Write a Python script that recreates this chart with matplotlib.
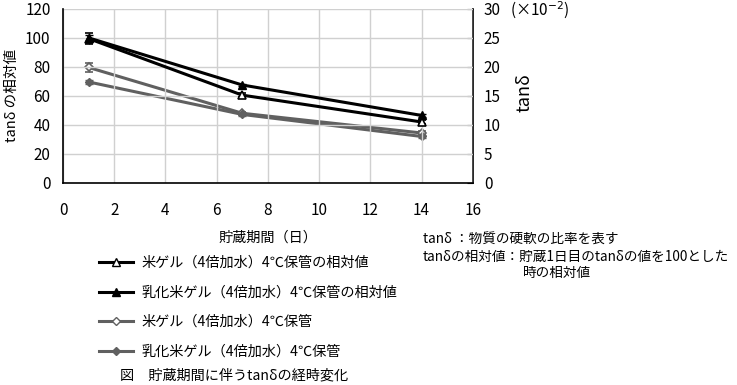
import matplotlib.pyplot as plt
from matplotlib.lines import Line2D

plt.rcParams['font.family'] = ['Noto Sans CJK JP', 'DejaVu Sans']

days = [1, 7, 14]

# relative values (left axis)
rel_rice = [99.5, 60.5, 42]
rel_rice_err = [4, 1.5, 1.5]
rel_emul = [100, 67.5, 46.5]
rel_emul_err = [2, 1, 1]

# tan delta (x10^-2, right axis)
tan_rice = [19.9, 12.0, 8.6]
tan_rice_err = [0.8, 0.3, 0.4]
tan_emul = [17.4, 11.8, 8.0]
tan_emul_err = [0.3, 0.3, 0.3]

labels = ['米ゲル（4倍加水）4℃保管の相対値',
          '乳化米ゲル（4倍加水）4℃保管の相対値',
          '米ゲル（4倍加水）4℃保管',
          '乳化米ゲル（4倍加水）4℃保管']

black = '#000000'
gray = '#606060'
fs = 10.2
tfs = 11

fig = plt.figure(figsize=(7.37, 3.85), dpi=100)
ax = fig.add_axes([0.0855, 0.525, 0.556, 0.452])
ax2 = ax.twinx()

ax2.errorbar(days, tan_rice, yerr=tan_rice_err, color=gray, lw=2.2, marker='D', ms=4.5,
             mfc='white', mec=gray, mew=1.2, capsize=3, elinewidth=1, ecolor=gray, zorder=3)
ax2.errorbar(days, tan_emul, yerr=tan_emul_err, color=gray, lw=2.2, marker='D', ms=4.5,
             mfc=gray, mec=gray, capsize=3, elinewidth=1, ecolor=gray, zorder=3)
ax2.set_ylim(0, 30)
ax2.set_yticks(range(0, 31, 5))
ax2.tick_params(axis='y', direction='in', length=4, labelsize=tfs, pad=8)
ax2.set_ylabel('tanδ', fontsize=13)
ax2.yaxis.set_label_coords(1.105, 0.52)
for s in ['top', 'left', 'bottom']:
    ax2.spines[s].set_visible(False)
ax2.spines['right'].set_linewidth(1.2)

ax.set_zorder(ax2.get_zorder() + 1)
ax.patch.set_visible(False)
ax.errorbar(days, rel_rice, yerr=rel_rice_err, color=black, lw=2.2, marker='^', ms=6,
            mfc='white', mec=black, mew=1.2, capsize=3, elinewidth=1, ecolor=black)
ax.errorbar(days, rel_emul, yerr=rel_emul_err, color=black, lw=2.2, marker='^', ms=6,
            mfc=black, mec=black, capsize=3, elinewidth=1, ecolor=black)
ax.set_xlim(0, 16)
ax.set_ylim(0, 120)
ax.set_xticks(range(0, 17, 2))
ax.set_yticks(range(0, 121, 20))
ax.tick_params(length=0, labelsize=tfs, pad=9)
ax.tick_params(axis='x', pad=14)
ax.grid(True, color='#d0d0d0', lw=1)
ax.set_axisbelow(True)
ax2.grid(False)
for s in ['top', 'right']:
    ax.spines[s].set_visible(False)
ax.spines['left'].set_linewidth(1.2)
ax.spines['bottom'].set_linewidth(1.2)
ax.set_xlabel('貯蔵期間（日）', fontsize=fs, labelpad=8)
ax.set_ylabel('tanδ の相対値', fontsize=10.5)
ax.yaxis.set_label_coords(-0.107, 0.5)

fig.text(0.692, 0.974, '(×10$^{-2}$)', fontsize=tfs, va='center', ha='left')

handles = [
    Line2D([], [], color=black, lw=2.2, marker='^', ms=6, mfc='white', mec=black),
    Line2D([], [], color=black, lw=2.2, marker='^', ms=6, mfc=black, mec=black),
    Line2D([], [], color=gray, lw=2.2, marker='D', ms=4.5, mfc='white', mec=gray),
    Line2D([], [], color=gray, lw=2.2, marker='D', ms=4.5, mfc=gray, mec=gray),
]
fig.legend(handles, labels, loc='upper left', bbox_to_anchor=(0.127, 0.35),
           frameon=False, fontsize=fs, labelspacing=1.1, handlelength=2.4,
           handletextpad=0.6, borderaxespad=0)

fig.text(0.574, 0.377, 'tanδ ：物質の硬軟の比率を表す', fontsize=9.8, va='center')
fig.text(0.574, 0.333, 'tanδの相対値：貯蔵1日目のtanδの値を100とした', fontsize=9.8, va='center')
fig.text(0.71, 0.291, '時の相対値', fontsize=9.8, va='center')
fig.text(0.163, 0.008, '図　貯蔵期間に伴うtanδの経時変化', fontsize=fs, va='bottom')

fig.savefig('out.png', dpi=100)
